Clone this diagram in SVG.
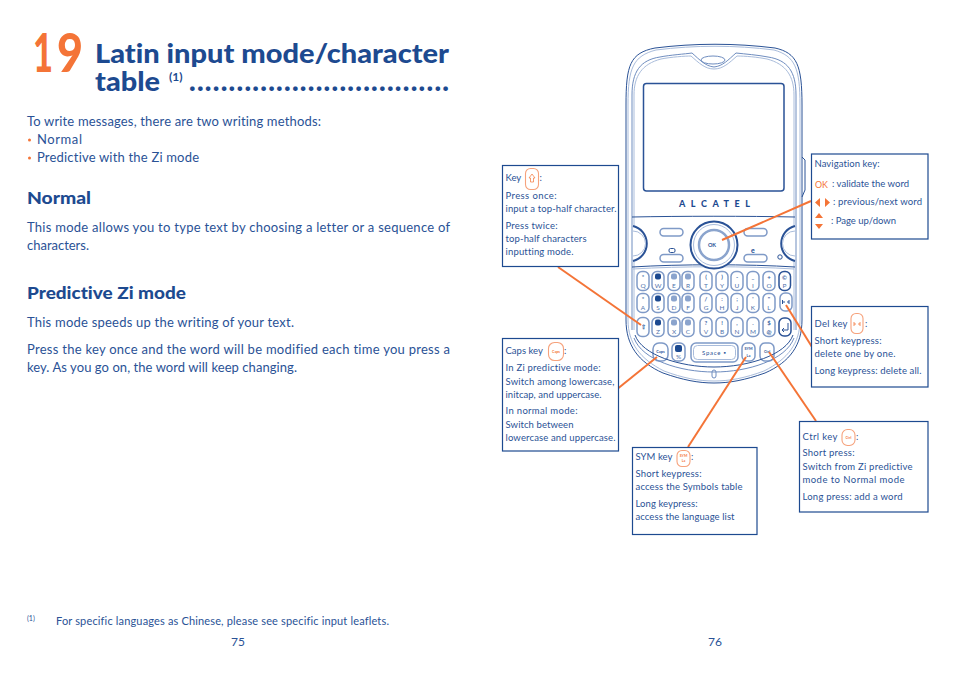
<svg xmlns="http://www.w3.org/2000/svg" width="954" height="678" viewBox="0 0 954 678">
<style>
text{font-family:"Lato","Liberation Sans",sans-serif;fill:#2a5296;font-variant-ligatures:none}
.h{font-weight:900;fill:#1d4a90}
.b{font-size:13px}
.s{font-size:9.5px}
.box{fill:#fff;stroke:#1d4a90;stroke-width:1.2}
.con{stroke:#f47437;stroke-width:2;fill:none}
.dk{fill:none;stroke:#2a5296;stroke-width:1}
.lt{fill:none;stroke:#a9bcdb;stroke-width:1}
.md{fill:none;stroke:#6f8dbf;stroke-width:1}
.key{fill:#fff;stroke:#7f9ac7;stroke-width:1.5}
.dkey{fill:#fff;stroke:#2a5296;stroke-width:1.5}
.kt{font-size:6.5px;text-anchor:middle;fill:#5274ad}
.ks{font-size:6px;text-anchor:middle;fill:#3d64a3;font-weight:700}
.ic{fill:#fff;stroke:#f6a27c;stroke-width:1.1}
.it{font-size:3.6px;text-anchor:middle;fill:#f47437;font-weight:700}
.tri{fill:#f47437}
.pad{fill:#1d4a90}
.pad2{fill:#8ba4cd}
</style>
<defs><rect id="k" class="key" x="-6" y="-9.500" width="12" height="19" rx="5"/></defs>
<rect width="954" height="678" fill="#fff"/>
<g id="page-75">
<text x="33" y="72" font-size="53" font-weight="900" style="fill:#f47437" textLength="20" lengthAdjust="spacingAndGlyphs">1</text>
<text x="57" y="72" font-size="53" font-weight="900" style="fill:#f47437" textLength="26" lengthAdjust="spacingAndGlyphs">9</text>
<text class="h" x="95" y="63" font-size="27" textLength="354" lengthAdjust="spacingAndGlyphs">Latin input mode/character</text>
<text class="h" x="95" y="91" font-size="27" textLength="65" lengthAdjust="spacingAndGlyphs">table</text>
<text x="169" y="81" font-size="12" style="fill:#1d4a90" font-weight="700">(1)</text>
<text class="h" x="189" y="91" font-size="28" textLength="260">.................................</text>
<text class="b" x="27" y="126" textLength="294">To write messages, there are two writing methods:</text>
<circle cx="29.500" cy="140" r="1.500" fill="#f47437"/><text class="b" x="37" y="144" textLength="45">Normal</text>
<circle cx="29.500" cy="158" r="1.500" fill="#f47437"/><text class="b" x="37" y="162" textLength="162">Predictive with the Zi mode</text>
<text class="h" x="27" y="204" font-size="17.500" textLength="64" lengthAdjust="spacingAndGlyphs">Normal</text>
<text class="b" x="27" y="232" textLength="423">This mode allows you to type text by choosing a letter or a sequence of</text>
<text class="b" x="27" y="250" textLength="62">characters.</text>
<text class="h" x="27" y="299" font-size="17.500" textLength="159" lengthAdjust="spacingAndGlyphs">Predictive Zi mode</text>
<text class="b" x="27" y="327" textLength="267">This mode speeds up the writing of your text.</text>
<text class="b" x="27" y="354" textLength="423">Press the key once and the word will be modified each time you press a</text>
<text class="b" x="27" y="372" textLength="270">key. As you go on, the word will keep changing.</text>
<text x="27" y="621" font-size="7">(1)</text>
<text x="56" y="625" font-size="11" textLength="333">For specific languages as Chinese, please see specific input leaflets.</text>
<text x="238" y="646" font-size="12" text-anchor="middle">75</text>
</g>
<text x="715" y="646" font-size="12" text-anchor="middle">76</text>
<g id="phone">
<path class="dk" d="M626 105C626 65 630 53 655 48C695 43 735 43 775 48C797 53 802 65 802 105L802 320C802 345 790 362 765 373C745 380 730 383 714 383C698 383 683 380 663 373C638 362 626 345 626 320Z"/>
<path class="lt" d="M628 105C628 68 633 56 656 50C695 45 735 45 774 50C795 56 800 68 800 105L800 320C800 343 788 359 764 371C745 378 730 381 714 381C698 381 683 378 664 371C640 359 628 343 628 320Z"/>
<path class="md" d="M632 330L632 95C632 72 640 60 660 57C670 55 685 54 692 53C700 60 705 66 714 67C723 66 728 60 736 53C745 54 758 55 768 57C788 60 796 72 796 95L796 330"/>
<path class="lt" d="M634 330L634 95C634 76 642 64 661 59C671 57 685 56 691 56C699 63 705 69 714 69C723 69 729 63 737 56C745 56 757 57 767 59C786 64 794 76 794 95L794 330"/>
<ellipse class="md" cx="713" cy="60" rx="12" ry="4"/>
<rect x="643.500" y="83.500" width="140.500" height="107.500" rx="3" fill="#fff" stroke="#2a5296" stroke-width="1.500"/>
<text x="679" y="207" font-size="9" class="h" textLength="71">ALCATEL</text>
<path d="M802 157L805 160L805 190L802 197" class="dk"/>
<path class="dk" d="M632 217C680 216 748 216 795 217"/>
<path class="dk" d="M632 267C680 264 748 264 795 267"/>
<path class="lt" d="M633 269C680 266 748 266 794 269"/>
<circle cx="714" cy="245" r="23.500" fill="#fff" stroke="#2a5296" stroke-width="2"/>
<circle cx="714" cy="245" r="20.500" class="lt"/>
<circle cx="714" cy="245" r="15" fill="#fff" stroke="#8ba4cd" stroke-width="2.500"/>
<text x="712" y="247" font-size="5.500" text-anchor="middle" font-weight="700">OK</text>
<path d="M633 226A18 18 0 0 1 633 261" fill="#fff" stroke="#2a5296" stroke-width="2"/>
<path class="lt" d="M633 231A12 12 0 0 1 633 256"/>
<path d="M795 226A18 18 0 0 0 795 261" fill="#fff" stroke="#2a5296" stroke-width="2"/>
<path class="lt" d="M795 231A12 12 0 0 0 795 256"/>
<rect class="key" x="660" y="228.500" width="23" height="7.500" rx="3.700"/>
<rect class="key" x="660" y="254.500" width="23" height="7.500" rx="3.700"/>
<rect class="key" x="744" y="228.500" width="23" height="7.500" rx="3.700"/>
<rect class="key" x="744" y="254.500" width="23" height="7.500" rx="3.700"/>
<rect x="669" y="248.500" width="6" height="4" rx="1.500" class="dk"/>
<text x="753" y="253" font-size="7" text-anchor="middle" font-weight="900">e</text>
<circle cx="780" cy="257" r="2.200" class="dk"/>
<g id="keys">
<use href="#k" x="643" y="281"/><use href="#k" x="658" y="281"/><use href="#k" x="674" y="281"/><use href="#k" x="688" y="281"/><use href="#k" x="706" y="281"/><use href="#k" x="722" y="281"/><use href="#k" x="737" y="281"/><use href="#k" x="753" y="281"/><use href="#k" x="769" y="281"/>
<rect class="dkey" x="779" y="271.500" width="11.500" height="19" rx="5"/>
<use href="#k" x="643" y="303"/><use href="#k" x="658" y="303"/><use href="#k" x="674" y="303"/><use href="#k" x="688" y="303"/><use href="#k" x="706" y="303"/><use href="#k" x="722" y="303"/><use href="#k" x="737" y="303"/><use href="#k" x="753" y="303"/><use href="#k" x="769" y="303"/>
<rect class="key" x="780" y="293" width="12" height="18" rx="5"/>
<use href="#k" x="643" y="327"/><use href="#k" x="658" y="327"/><use href="#k" x="674" y="327"/><use href="#k" x="688" y="327"/><use href="#k" x="706" y="327"/><use href="#k" x="722" y="327"/><use href="#k" x="737" y="327"/><use href="#k" x="753" y="327"/><use href="#k" x="769" y="327"/>
<rect class="dkey" x="779" y="318" width="12" height="18" rx="5"/>
<rect class="pad" x="655" y="273.500" width="6" height="6" rx="2"/><rect class="pad2" x="671" y="273.500" width="6" height="6" rx="2"/><rect class="pad2" x="685" y="273.500" width="6" height="6" rx="2"/>
<rect class="pad" x="655" y="295.500" width="6" height="6" rx="2"/><rect class="pad2" x="671" y="295.500" width="6" height="6" rx="2"/><rect class="pad2" x="685" y="295.500" width="6" height="6" rx="2"/>
<rect class="pad" x="655" y="319.500" width="6" height="6" rx="2"/><rect class="pad2" x="671" y="319.500" width="6" height="6" rx="2"/><rect class="pad2" x="685" y="319.500" width="6" height="6" rx="2"/>
<text class="kt" x="643" y="288">Q</text><text class="kt" x="658" y="288">W</text><text class="kt" x="674" y="288">E</text><text class="kt" x="688" y="288">R</text><text class="kt" x="706" y="288">T</text><text class="kt" x="722" y="288">Y</text><text class="kt" x="737" y="288">U</text><text class="kt" x="753" y="288">I</text><text class="kt" x="769" y="288">O</text><text class="kt" x="784.500" y="288">P</text>
<text class="kt" x="643" y="310">A</text><text class="kt" x="658" y="310">S</text><text class="kt" x="674" y="310">D</text><text class="kt" x="688" y="310">F</text><text class="kt" x="706" y="310">G</text><text class="kt" x="722" y="310">H</text><text class="kt" x="737" y="310">J</text><text class="kt" x="753" y="310">K</text><text class="kt" x="769" y="310">L</text>
<text class="kt" x="658" y="334">Z</text><text class="kt" x="674" y="334">X</text><text class="kt" x="688" y="334">C</text><text class="kt" x="706" y="334">V</text><text class="kt" x="722" y="334">B</text><text class="kt" x="737" y="334">N</text><text class="kt" x="753" y="334">M</text>
<text class="ks" x="643" y="279">*</text><text class="ks" x="706" y="279">(</text><text class="ks" x="722" y="279">)</text><text class="ks" x="737" y="279">-</text><text class="ks" x="753" y="279">_</text><text class="ks" x="769" y="279">+</text><text class="ks" x="784.500" y="280">©</text>
<text class="ks" x="643" y="301">*</text><text class="ks" x="706" y="301">/</text><text class="ks" x="722" y="301">:</text><text class="ks" x="737" y="301">;</text><text class="ks" x="753" y="301">'</text><text class="ks" x="769" y="301">"</text>
<text class="ks" x="706" y="325">?</text><text class="ks" x="722" y="325">!</text><text class="ks" x="737" y="325">,</text><text class="ks" x="753" y="325">.</text><text class="ks" x="769" y="325">$</text>
<text class="ks" x="643" y="329">⇧</text><text class="ks" x="769" y="334">@</text>
<path d="M782.500 300V304M789 300V304M783 302H785M787 302H789" class="dk"/>
<path class="dk" d="M788 323L788 330L782 330M784 328L782 330L784 332" stroke-width="1.400"/>
</g>
<rect class="key" x="653" y="343" width="15" height="18" rx="6"/>
<text x="660.500" y="353" font-size="3.800" text-anchor="middle" font-weight="700">Caps</text>
<rect class="key" x="672" y="343" width="13" height="18" rx="5"/>
<rect class="pad" x="675" y="345" width="7" height="7" rx="2"/><text class="kt" x="678.500" y="358.500">%</text>
<rect class="key" x="691" y="343" width="47" height="19" rx="5"/>
<rect class="lt" x="693.500" y="345.500" width="42" height="14" rx="4"/>
<text x="714" y="355" font-size="6" text-anchor="middle" textLength="24">Space ▪</text>
<rect class="key" x="742" y="343" width="13" height="18" rx="5"/>
<text x="748.500" y="350" font-size="3.800" text-anchor="middle" font-weight="700">SYM</text><text x="748.500" y="357" font-size="3.800" text-anchor="middle" font-weight="700">La</text>
<rect class="key" x="760" y="343" width="14" height="18" rx="5"/>
<text x="767" y="353" font-size="3.800" text-anchor="middle" font-weight="700">Ctrl</text>
<path class="dk" d="M635 335C642 355 680 367 714 367C748 367 786 355 793 335"/>
<path class="md" d="M634 338C642 360 680 372 714 372C748 372 786 360 794 338"/>
<rect class="md" x="712" y="370" width="4" height="8" rx="2"/>
</g>
<g id="connectors">
<line class="con" x1="558" y1="267" x2="641" y2="325"/>
<line class="con" x1="618.500" y1="388" x2="657" y2="357"/>
<line class="con" x1="688" y1="447" x2="746" y2="357"/>
<line class="con" x1="816" y1="421" x2="769" y2="352"/>
<line class="con" x1="812" y1="347" x2="786" y2="305"/>
<line class="con" x1="811" y1="201" x2="722" y2="240"/>
</g>
<g id="key-note">
<rect class="box" x="502.500" y="165.500" width="116" height="101"/>
<text class="s" x="505.500" y="181">Key</text>
<rect class="ic" x="525.500" y="168.500" width="13" height="21" rx="5"/>
<path d="M532 174L535 178L533.500 178L533.500 182L530.500 182L530.500 178L529 178Z" fill="#fff" stroke="#f47437" stroke-width=".7"/>
<text class="s" x="539.500" y="181">:</text>
<text class="s" x="505.500" y="199" textLength="51">Press once:</text>
<text class="s" x="505.500" y="212" textLength="111">input a top-half character.</text>
<text class="s" x="505.500" y="229" textLength="52">Press twice:</text>
<text class="s" x="505.500" y="242" textLength="81">top-half characters</text>
<text class="s" x="505.500" y="255" textLength="68">inputting mode.</text>
</g>
<g id="caps-note">
<rect class="box" x="502.500" y="338.500" width="116" height="112.500"/>
<text class="s" x="505.500" y="354">Caps key</text>
<rect class="ic" x="548.500" y="342.500" width="15" height="18" rx="6"/>
<text class="it" x="556" y="352.500">Caps</text>
<text class="s" x="564" y="354">:</text>
<text class="s" x="505.500" y="371" textLength="95">In Zi predictive mode:</text>
<text class="s" x="505.500" y="384.500" textLength="109">Switch among lowercase,</text>
<text class="s" x="505.500" y="398" textLength="96">initcap, and uppercase.</text>
<text class="s" x="505.500" y="414" textLength="72">In normal mode:</text>
<text class="s" x="505.500" y="427.500" textLength="68">Switch between</text>
<text class="s" x="505.500" y="441" textLength="110">lowercase and uppercase.</text>
</g>
<g id="nav-note">
<rect class="box" x="811.500" y="154" width="116.500" height="85"/>
<text class="s" x="814.500" y="167" textLength="65">Navigation key:</text>
<text x="815" y="188" font-size="10" textLength="13" lengthAdjust="spacingAndGlyphs" style="fill:#f47437">OK</text>
<text class="s" x="832" y="187" textLength="77">: validate the word</text>
<path class="tri" d="M820 198L815 202.500L820 207ZM825 198L830 202.500L825 207ZM815 218L819 213L823 218ZM815 224L823 224L819 229Z"/>
<text class="s" x="833" y="205" textLength="89">: previous/next word</text>
<text class="s" x="831" y="224" textLength="65">: Page up/down</text>
</g>
<g id="del-note">
<rect class="box" x="811.500" y="306.500" width="116.500" height="80.500"/>
<text class="s" x="814.500" y="327" textLength="33">Del key</text>
<rect class="ic" x="851" y="313.500" width="12" height="20" rx="5"/>
<path d="M854 322V326M860 322V326M854 324H856M858 324H860" stroke="#f47437" stroke-width=".8" fill="none"/>
<text class="s" x="865" y="327">:</text>
<text class="s" x="814.500" y="344" textLength="67">Short keypress:</text>
<text class="s" x="814.500" y="357" textLength="81">delete one by one.</text>
<text class="s" x="814.500" y="374" textLength="107">Long keypress: delete all.</text>
</g>
<g id="sym-note">
<rect class="box" x="632.500" y="447.500" width="124.500" height="87"/>
<text class="s" x="635.500" y="460" textLength="37">SYM key</text>
<rect class="ic" x="677" y="450.500" width="13" height="16" rx="5"/>
<text class="it" x="683.500" y="457">SYM</text><text class="it" x="683.500" y="462">La</text>
<text class="s" x="691" y="460">:</text>
<text class="s" x="635.500" y="477" textLength="66">Short keypress:</text>
<text class="s" x="635.500" y="490" textLength="107">access the Symbols table</text>
<text class="s" x="635.500" y="507" textLength="62">Long keypress:</text>
<text class="s" x="635.500" y="520" textLength="99">access the language list</text>
</g>
<g id="ctrl-note">
<rect class="box" x="799.500" y="421.500" width="128.500" height="90.500"/>
<text class="s" x="802.500" y="440" textLength="35">Ctrl key</text>
<rect class="ic" x="842" y="429.500" width="13" height="16" rx="5.500"/>
<text class="it" x="848.500" y="439">Ctrl</text>
<text class="s" x="856" y="440">:</text>
<text class="s" x="802.500" y="456" textLength="52">Short press:</text>
<text class="s" x="802.500" y="470" textLength="110">Switch from Zi predictive</text>
<text class="s" x="802.500" y="483" textLength="102">mode to Normal mode</text>
<text class="s" x="802.500" y="500" textLength="100">Long press: add a word</text>
</g>
</svg>
